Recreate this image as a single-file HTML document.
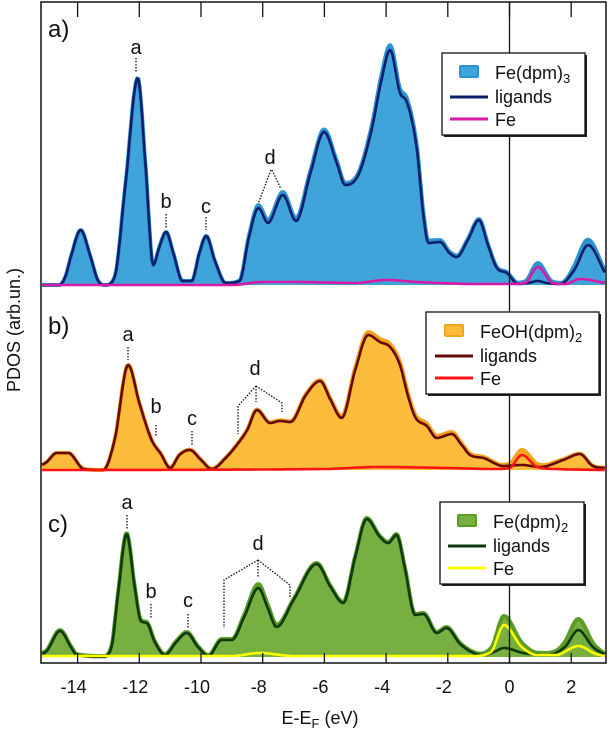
<!DOCTYPE html>
<html><head><meta charset="utf-8"><style>
body{margin:0;background:#fff;width:610px;height:737px;overflow:hidden}
svg text{font-family:"Liberation Sans",Arial,sans-serif;fill:#111}
</style></head><body>
<svg id="chart" width="610" height="737" viewBox="0 0 610 737" xmlns="http://www.w3.org/2000/svg" style="position:absolute;left:0;top:0">
<g id="plots"></g>
<g id="frame"></g>
</svg>
<script>
// Energy ticks
const xTicks = [-14,-12,-10,-8,-6,-4,-2,0,2];
// Panel a: Fe(dpm)3
const aLigE = [-15.15,-14.6,-14.4,-14.2,-13.9,-13.6,-13.35,-13.1,-12.8,-12.45,-12.05,-11.8,-11.55,-11.35,-11.13,-10.9,-10.6,-10.3,-10.05,-9.83,-9.55,-9.2,-8.75,-8.45,-8.14,-7.83,-7.35,-6.92,-6.45,-6.01,-5.6,-5.33,-4.9,-4.47,-4.15,-3.87,-3.55,-3.33,-3.0,-2.8,-2.63,-2.25,-1.95,-1.71,-1.35,-0.99,-0.7,-0.41,-0.09,0.28,0.6,0.92,1.2,1.64,2.1,2.55,3.1];
const aLigV = [0,0,8,30,55,30,5,0,8,100,207,120,20,38,53,32,4,4,32,49,24,2,4,47,77,62,90,64,112,153,122,100,110,155,205,235,192,183,135,72,42,43,32,28,45,65,40,17,12,1,2,4,2,1,15,40,12];
const aFeE = [-15.15,-9,-8,-7,-5,-4,-3,-1,0,0.5,0.92,1.4,1.8,2.3,3.1];
const aFeV = [0,0,3,3,2,5,3,1,1,2,18,2,1,6,2];
// Panel b: FeOH(dpm)2
const bLigE = [-15.15,-15.0,-14.68,-14.3,-13.8,-13.17,-12.8,-12.36,-12.0,-11.6,-11.3,-11.0,-10.7,-10.36,-10.0,-9.65,-9.2,-8.79,-8.5,-8.19,-7.76,-7.44,-7.1,-6.6,-6.14,-5.8,-5.44,-5.0,-4.58,-4.2,-3.87,-3.55,-3.3,-3.06,-2.68,-2.36,-1.87,-1.55,-1.28,-0.85,-0.2,0.4,1.0,1.74,2.28,2.7,3.1];
const bLigV = [5,8,17,17,1,0,30,105,67,30,16,2,15,20,10,1,12,27,40,60,47,49,48,75,89,70,52,100,135,128,123,105,75,53,44,32,36,25,15,12,4,5,3,10,16,4,2];
const bFeE = [-15.15,-6,-4.3,-2,-0.5,0.0,0.4,0.9,1.5,3.1];
const bFeV = [0,1,3,2,1,2,15,3,1,0];
// Panel c: Fe(dpm)2
const cLigE = [-15.15,-15.0,-14.57,-14.2,-14.03,-13.17,-12.9,-12.7,-12.41,-12.15,-11.95,-11.76,-11.5,-11.17,-10.8,-10.46,-10.1,-9.76,-9.33,-9.0,-8.6,-8.14,-7.85,-7.55,-7.0,-6.25,-5.8,-5.39,-5.0,-4.63,-4.2,-3.93,-3.66,-3.4,-3.06,-2.79,-2.36,-2.04,-1.6,-1.17,-0.85,-0.5,-0.18,0.45,1.2,1.8,2.23,2.7,3.1];
const cLigV = [3,6,26,9,2,0,10,60,123,70,36,34,15,2,15,24,10,1,17,17,40,69,50,30,57,93,70,54,100,138,120,114,122,90,42,43,24,29,13,4,2,5,9,4,2,10,27,10,2];
const cFeE = [-15.15,-9,-8.1,-7,-1.2,-0.6,-0.18,0.4,0.9,1.5,2.23,2.8,3.1];
const cFeV = [1,1,4,1,1,5,32,10,2,2,11,3,1];

const X0=41,X1=606,Y0=2,Y1=663;
const xScale = e => 509.5 + 30.85*e;
const EMIN=-15.15, EMAX=3.1;
const panels = [
 {key:'a',base:285,ligE:aLigE,ligV:aLigV,feE:aFeE,feV:aFeV,fill:'#3fa4d9',edge:'#2b93d3',lig:'#0d1f6b',fe:'#d81aa6',
  leg:{x:442,y:53,w:143,h:82,name:'Fe(dpm)',sub:'3'}},
 {key:'b',base:470,ligE:bLigE,ligV:bLigV,feE:bFeE,feV:bFeV,fill:'#fbbc3c',edge:'#f5a21c',lig:'#650808',fe:'#ff1414',
  leg:{x:426,y:312,w:173,h:82,name:'FeOH(dpm)',sub:'2'}},
 {key:'c',base:657,ligE:cLigE,ligV:cLigV,feE:cFeE,feV:cFeV,fill:'#77b041',edge:'#5a9c25',lig:'#0e3a0e',fe:'#ffff00',
  leg:{x:440,y:502,w:144,h:82,name:'Fe(dpm)',sub:'2'}}
];
const NS='http://www.w3.org/2000/svg';
function mk(tag,attrs,parent){const el=document.createElementNS(NS,tag);for(const k in attrs)el.setAttribute(k,attrs[k]);parent.appendChild(el);return el;}
function interp(xs,ys){
  const n=xs.length,d=[],m=new Array(n);
  for(let i=0;i<n-1;i++)d.push((ys[i+1]-ys[i])/(xs[i+1]-xs[i]));
  m[0]=d[0];m[n-1]=d[n-2];
  for(let i=1;i<n-1;i++){m[i]=(d[i-1]*d[i]<=0)?0:(d[i-1]+d[i])/2;}
  for(let i=0;i<n-1;i++){if(d[i]===0){m[i]=0;m[i+1]=0;continue;}const a=m[i]/d[i],b=m[i+1]/d[i],s=a*a+b*b;if(s>9){const t=3/Math.sqrt(s);m[i]=t*a*d[i];m[i+1]=t*b*d[i];}}
  return x=>{let i=0;while(i<n-2&&x>xs[i+1])i++;const h=xs[i+1]-xs[i],t=Math.min(1,Math.max(0,(x-xs[i])/h));
    const t2=t*t,t3=t2*t;return (2*t3-3*t2+1)*ys[i]+(t3-2*t2+t)*h*m[i]+(-2*t3+3*t2)*ys[i+1]+(t3-t2)*h*m[i+1];};
}
const plots=document.getElementById('plots');
panels.forEach(p=>{
  const yScale=v=>p.base - v;
  const fl=interp(p.ligE,p.ligV), ff=interp(p.feE,p.feV);
  const es=[];for(let e=EMIN;e<=EMAX+1e-9;e+=0.04)es.push(e);
  const ptsL=es.map(e=>[xScale(e),yScale(fl(e))]);
  const ptsF=es.map(e=>[xScale(e),yScale(ff(e))]);
  const ptsT=es.map(e=>[xScale(e),yScale(fl(e)+ff(e))]);
  const line=pts=>pts.map((q,i)=>(i?'L':'M')+q[0].toFixed(1)+' '+q[1].toFixed(1)).join('');
  const g=mk('g',{},plots);
  
  
  const area=mk('path',{d:line(ptsT)+`L${xScale(EMAX)} ${p.base}L${xScale(EMIN)} ${p.base}Z`,fill:p.fill,stroke:'none'},g);
  
  
  const edge=mk('path',{d:line(ptsT),fill:'none',stroke:p.edge,'stroke-width':4,'stroke-linejoin':'round'},g);
  
  
  const lig=mk('path',{d:line(ptsL),fill:'none',stroke:p.lig,'stroke-width':2.6,'stroke-linejoin':'round'},g);
  
  
  const fe=mk('path',{d:line(ptsF),fill:'none',stroke:p.fe,'stroke-width':2.6,'stroke-linejoin':'round'},g);
  
  
});
const fr=document.getElementById('frame');
const z=mk('line',{x1:xScale(0),x2:xScale(0),y1:Y0,y2:Y1,stroke:'#111','stroke-width':1.3},fr);


const box=mk('rect',{x:X0,y:Y0,width:X1-X0,height:Y1-Y0,fill:'none',stroke:'#111','stroke-width':1.5},fr);


xTicks.forEach(t=>{
  const x=xScale(t);
  const tt=mk('line',{x1:x,x2:x,y1:Y0,y2:Y0+15,stroke:'#111','stroke-width':1.3},fr);
  
  
  const tb=mk('line',{x1:x,x2:x,y1:Y1,y2:Y1-10,stroke:'#111','stroke-width':1.3},fr);
  
  
  const lb=mk('text',{x:x-(t<0?4:0),y:693,'font-size':18,'text-anchor':'middle'},fr);
  lb.textContent=(t<0?'-':'')+Math.abs(t);
  
  
});
panels.forEach(p=>{
  const L=p.leg;
  const g=mk('g',{},fr);
  
  
  mk('rect',{x:L.x+2,y:L.y+2,width:L.w,height:L.h,fill:'#222'},g);
  mk('rect',{x:L.x,y:L.y,width:L.w,height:L.h,fill:'#fff',stroke:'#111','stroke-width':1.3},g);
  const tx=L.x+(p.key==='b'?54:53);
  const sw=mk('rect',{x:tx-35,y:L.y+13,width:18,height:11,fill:p.fill,stroke:p.edge,'stroke-width':2,rx:1},g);
  
  
  const t1=mk('text',{x:tx,y:L.y+26,'font-size':18},g);
  t1.innerHTML=L.name+'<tspan font-size="13" dy="4">'+L.sub+'</tspan>';
  
  
  const l2=mk('line',{x1:tx-45,x2:tx-7,y1:L.y+44,y2:L.y+44,stroke:p.lig,'stroke-width':3},g);
  
  
  const t2=mk('text',{x:tx,y:L.y+50,'font-size':18},g);t2.textContent='ligands';
  
  
  const l3=mk('line',{x1:tx-45,x2:tx-7,y1:L.y+66,y2:L.y+66,stroke:p.fe,'stroke-width':3},g);
  
  
  const t3=mk('text',{x:tx,y:L.y+73,'font-size':18},g);t3.textContent='Fe';
  
  
});
</script>
<svg style="position:absolute;left:0;top:0" width="610" height="737">
<g font-size="24"><text x="48" y="37">a)</text>
<text x="48" y="334">b)</text>
<text x="48" y="532">c)</text></g>
<g font-size="20" text-anchor="middle">
<text x="136" y="54">a</text>
<text x="166" y="208">b</text>
<text x="206" y="213">c</text>
<text x="270" y="164">d</text>
<text x="128" y="341">a</text>
<text x="156" y="413">b</text>
<text x="192" y="425">c</text>
<text x="255" y="375">d</text>
<text x="127" y="509">a</text>
<text x="151" y="598">b</text>
<text x="188" y="607">c</text>
<text x="258" y="550">d</text>
</g>
<g fill="none" stroke="#111" stroke-width="1.3" stroke-dasharray="1.5,1.5">
<path d="M136 58V72M166 214V228M206 217V230M271 170L258 204M272 170L281 189"/>
<path d="M128 347V360M156 425V436M192 431V445M256 386L238 406V434M256 386V402M256 386L282 403V412"/>
<path d="M127 515V530M151 604V618M188 614V628M258 560L224 580V628M258 560V578M258 560L290 585V598"/>
</g>
<text transform="translate(20,330) rotate(-90)" font-size="18" text-anchor="middle">PDOS (arb.un.)</text>
<text x="320" y="724" font-size="18" text-anchor="middle">E-E<tspan font-size="13" dy="4">F</tspan><tspan dy="-4"> (eV)</tspan></text>
</svg>
</body></html>
